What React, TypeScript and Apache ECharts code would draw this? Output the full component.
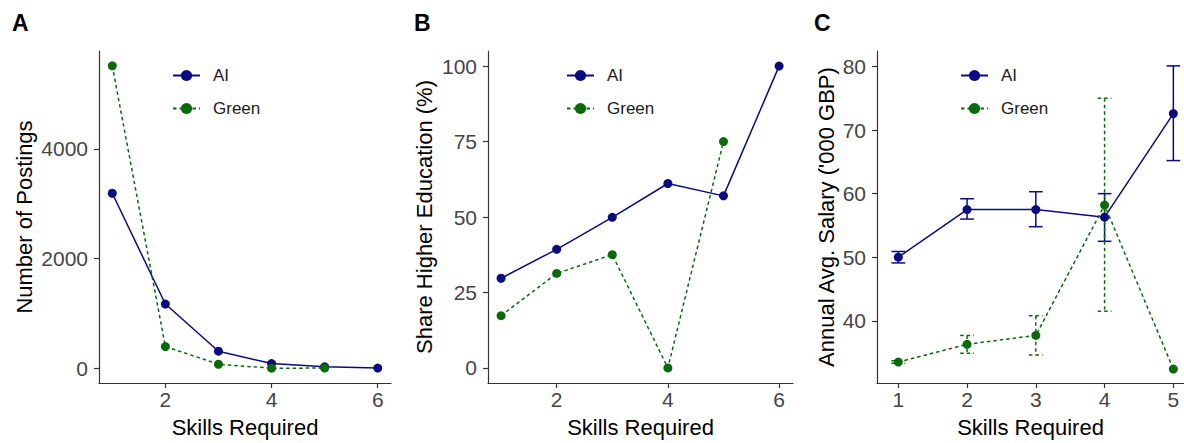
import React, { useEffect, useRef } from "react";
import * as echarts from "echarts";

// Panel A: Number of postings
const skillsAI_A = [1, 2, 3, 4, 5, 6];
const postingsAI = [3190, 1170, 310, 85, 25, 3];
const skillsGreen_A = [1, 2, 3, 4, 5];
const postingsGreen = [5514, 395, 72, 0, 2];

// Panel B: Share higher education (%)
const skillsAI_B = [1, 2, 3, 4, 5, 6];
const eduAI = [29.7, 39.3, 49.9, 61.1, 57.0, 100];
const skillsGreen_B = [1, 2, 3, 4, 5];
const eduGreen = [17.3, 31.3, 37.5, 0, 75];

// Panel C: Annual avg salary ('000 GBP)
const skillsC = [1, 2, 3, 4, 5];
const salAI = [50.0, 57.5, 57.5, 56.3, 72.6];
const salAILo = [49.1, 56.0, 54.8, 52.5, 65.2];
const salAIHi = [50.9, 59.2, 60.3, 60.0, 80.1];
const salGreen = [33.5, 36.3, 37.7, 58.2, 32.4];
const salGreenLo: (number | null)[] = [33.3, 34.9, 34.6, 41.5, null];
const salGreenHi: (number | null)[] = [33.7, 37.7, 40.8, 75.0, null];

const ticksXAB = [2, 4, 6];
const ticksXC = [1, 2, 3, 4, 5];
const ticksYA = [0, 2000, 4000];
const ticksYB = [0, 25, 50, 75, 100];
const ticksYC = [40, 50, 60, 70, 80];

const AI_COLOR = "#0b0b80";
const GREEN_COLOR = "#0b6a0b";
const FONT = "Liberation Sans, Arial, Helvetica, sans-serif";
const DASH = [3.5, 3];

const zip = (xs: number[], ys: number[]) => xs.map((x, i) => [x, ys[i]]);

export default function App() {
  const ref = useRef<HTMLDivElement>(null);
  useEffect(() => {
    document.body.style.margin = "0";
    if (!ref.current) return;
    const chart = echarts.init(ref.current, undefined, { renderer: "svg" });

    const xAxisBase = (grid: number, min: number, max: number, ticks: number[]) => ({
      type: "value",
      gridIndex: grid,
      min,
      max,
      splitLine: { show: false },
      axisLine: { show: true, onZero: false, lineStyle: { color: "#333", width: 1.2 } },
      axisTick: { show: true, length: 5, customValues: ticks, lineStyle: { color: "#333", width: 1.2 } },
      axisLabel: {
        customValues: ticks,
        fontSize: 21,
        color: "#454545",
        margin: 6,
        fontFamily: FONT,
        formatter: (v: number) => String(v),
      },
      name: "Skills Required",
      nameLocation: "middle",
      nameGap: 33,
      nameTextStyle: { fontSize: 22, color: "#000", fontFamily: FONT },
    });
    const yAxisBase = (grid: number, min: number, max: number, ticks: number[], name: string, gap: number) => ({
      type: "value",
      gridIndex: grid,
      min,
      max,
      splitLine: { show: false },
      axisLine: { show: true, onZero: false, lineStyle: { color: "#333", width: 1.2 } },
      axisTick: { show: true, length: 5, customValues: ticks, lineStyle: { color: "#333", width: 1.2 } },
      axisLabel: {
        customValues: ticks,
        fontSize: 21,
        color: "#454545",
        margin: 11,
        fontFamily: FONT,
        formatter: (v: number) => String(v),
      },
      name,
      nameLocation: "middle",
      nameGap: gap,
      nameTextStyle: { fontSize: 22, color: "#000", fontFamily: FONT },
    });

    const lineSeries = (name: string, grid: number, data: number[][], dashed: boolean) => ({
      type: "line",
      name,
      xAxisIndex: grid,
      yAxisIndex: grid,
      data,
      symbol: "circle",
      symbolSize: 9,
      color: dashed ? GREEN_COLOR : AI_COLOR,
      itemStyle: { color: dashed ? GREEN_COLOR : AI_COLOR },
      lineStyle: { width: 1.5, color: dashed ? GREEN_COLOR : AI_COLOR, type: dashed ? DASH : "solid" },
      z: dashed ? 3 : 2,
    });

    const errSeries = (name: string, xs: number[], lo: (number | null)[], hi: (number | null)[], dashed: boolean) => ({
      type: "custom",
      name,
      xAxisIndex: 2,
      yAxisIndex: 2,
      data: xs.map((x, i) => [x, lo[i], hi[i]]).filter((d) => d[1] != null && d[2] != null),
      encode: { x: 0, y: [1, 2] },
      z: 1,
      renderItem: (params: any, api: any) => {
        const x = api.value(0);
        const l = api.value(1);
        const h = api.value(2);
        const top = api.coord([x, h]);
        const bot = api.coord([x, l]);
        const left = api.coord([x - 0.1, h])[0];
        const right = api.coord([x + 0.1, h])[0];
        const style: any = {
          stroke: dashed ? GREEN_COLOR : AI_COLOR,
          lineWidth: 1.5,
          fill: null,
        };
        if (dashed) style.lineDash = DASH;
        return {
          type: "group",
          children: [
            { type: "line", shape: { x1: top[0], y1: top[1], x2: bot[0], y2: bot[1] }, style },
            { type: "line", shape: { x1: left, y1: top[1], x2: right, y2: top[1] }, style },
            { type: "line", shape: { x1: left, y1: bot[1], x2: right, y2: bot[1] }, style },
          ],
        };
      },
    });

    const legend = (left: number) => ({
      data: ["AI", "Green"],
      orient: "vertical",
      left,
      top: 67,
      padding: 0,
      itemWidth: 27,
      itemHeight: 14,
      itemGap: 16,
      selectedMode: false,
      textStyle: { fontSize: 17, color: "#1a1a1a", fontFamily: FONT, padding: [0, 0, 0, 8] },
    });

    const panelLabel = (text: string, x: number) => ({
      type: "text",
      left: x,
      top: 11,
      style: { text, fontSize: 23, fontWeight: "bold", fill: "#000", fontFamily: FONT },
    });

    chart.setOption({
      animation: false,
      grid: [
        { left: 99, top: 51, width: 292, height: 336 },
        { left: 488, top: 51, width: 305, height: 336 },
        { left: 877, top: 51, width: 307, height: 336 },
      ],
      xAxis: [
        xAxisBase(0, 0.75, 6.25, ticksXAB),
        xAxisBase(1, 0.765, 6.25, ticksXAB),
        xAxisBase(2, 0.69, 5.155, ticksXC),
      ],
      yAxis: [
        yAxisBase(0, -270, 5784, ticksYA, "Number of Postings", 64),
        yAxisBase(1, -5, 105, ticksYB, "Share Higher Education (%)", 53),
        yAxisBase(2, 30.21, 82.44, ticksYC, "Annual Avg. Salary ('000 GBP)", 40),
      ],
      legend: [legend(172), legend(566), legend(960)],
      graphic: [panelLabel("A", 12), panelLabel("B", 414), panelLabel("C", 814)],
      series: [
        lineSeries("AI", 0, zip(skillsAI_A, postingsAI), false),
        lineSeries("Green", 0, zip(skillsGreen_A, postingsGreen), true),
        lineSeries("AI", 1, zip(skillsAI_B, eduAI), false),
        lineSeries("Green", 1, zip(skillsGreen_B, eduGreen), true),
        errSeries("AI err", skillsC, salAILo, salAIHi, false),
        errSeries("Green err", skillsC, salGreenLo, salGreenHi, true),
        lineSeries("AI", 2, zip(skillsC, salAI), false),
        lineSeries("Green", 2, zip(skillsC, salGreen), true),
      ],
    });
    return () => chart.dispose();
  }, []);
  return <div ref={ref} style={{ width: 1184, height: 443 }} />;
}
